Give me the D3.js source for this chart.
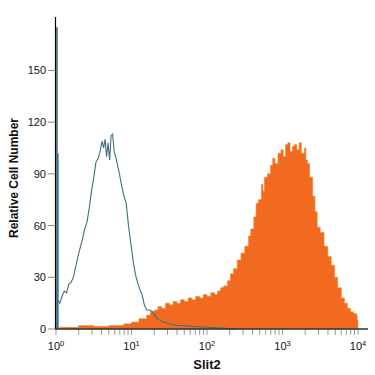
<!DOCTYPE html>
<html>
<head>
<meta charset="utf-8">
<script src="https://cdn.jsdelivr.net/npm/d3@7"></script>
<style>
  body { margin: 0; background: #fff; }
  svg { display: block; }
</style>
</head>
<body>
<div id="chart"></div>
<script>
// isotype control histogram: [log10 intensity, count]
var isotypeLog = [0.02,0.05,0.08,0.11,0.14,0.17,0.2,0.23,0.26,0.29,0.32,0.35,0.38,0.41,0.44,0.47,0.5,0.53,0.56,0.59,0.61,0.63,0.65,0.67,0.69,0.71,0.73,0.75,0.77,0.79,0.81,0.84,0.87,0.9,0.93,0.96,0.99,1.02,1.05,1.08,1.11,1.14,1.17,1.2,1.24,1.28,1.31,1.34,1.38,1.42,1.5,1.6,1.7,1.8,2.0,2.2,2.4];
var isotypeCount = [17,15,19,22,21,26,27,30,36,42,47,52,58,62,70,80,88,97,99,104,109,105,110,100,108,98,112,113,103,100,96,90,83,77,73,60,50,40,32,27,23,20,14,11,11,10,8,6,5,4,3,2,2,1.5,1,0.5,0];
// first channel pile-up
var spikeCounts = [175, 102];

// Slit2 stained histogram
var slitLog = [0,0.05,0.2,0.3,0.5,0.7,0.9,1.0,1.1,1.2,1.25,1.3,1.35,1.4,1.45,1.5,1.55,1.6,1.65,1.7,1.75,1.8,1.85,1.9,1.95,2.0,2.05,2.1,2.14,2.18,2.22,2.27,2.31,2.35,2.4,2.45,2.5,2.55,2.58,2.62,2.65,2.68,2.72,2.74,2.76,2.8,2.84,2.87,2.9,2.94,2.98,3.01,3.04,3.07,3.1,3.13,3.16,3.19,3.22,3.25,3.29,3.31,3.33,3.36,3.4,3.43,3.46,3.5,3.55,3.6,3.645,3.69,3.73,3.78,3.82,3.86,3.9,3.94,3.98,3.99,4.0];
var slitCount = [0.5,1,1,2,1.5,2,3,4,6,8,10,11,13,12,15,14,16,15,17,16,18,17,19,18,20,19,21,20,22,24,25,28,32,35,40,44,48,54,58,65,73,75,84,80,88,90,95,99,96,102,104,100,107,108,103,106,107,104,108,102,105,98,96,88,77,68,59,56,48,42,37,30,24,18,15,12,10,9,8,5,0];

var yTicks = [0, 30, 60, 90, 120, 150];
var xDecades = [0, 1, 2, 3, 4];

var W = 375, H = 375;
var svg = d3.select("#chart").append("svg")
  .attr("width", W).attr("height", H);

var x = d3.scaleLog().domain([1, 1e4]).range([56, 358]);
var y = d3.scaleLinear().domain([0, 181]).range([329, 17]);

var slit = slitLog.map(function(l, i) { return [Math.pow(10, l), slitCount[i]]; });
var iso = isotypeLog.map(function(l, i) { return [Math.pow(10, l), isotypeCount[i]]; });

// stained sample, filled
svg.append("path")
  .datum(slit)
  .attr("fill", "#f26a1f")
  .attr("stroke", "#e98b2e")
  .attr("stroke-width", 0.6)
  .attr("d", d3.area()
    .x(function(d) { return x(d[0]); })
    .y0(y(0))
    .y1(function(d) { return y(d[1]); })
    .curve(d3.curveStepAfter));

// pile-up spike in the first channel
svg.append("line")
  .attr("x1", x(1.03)).attr("x2", x(1.03))
  .attr("y1", y(0)).attr("y2", y(spikeCounts[0]))
  .attr("stroke", "#4f6a6a").attr("stroke-width", 1.6);
svg.append("line")
  .attr("x1", x(1.06)).attr("x2", x(1.06))
  .attr("y1", y(0)).attr("y2", y(spikeCounts[1]))
  .attr("stroke", "#1f6f99").attr("stroke-width", 1.4);

// isotype control outline
svg.append("path")
  .datum(iso)
  .attr("fill", "none")
  .attr("stroke", "#40707f")
  .attr("stroke-width", 1.1)
  .attr("d", d3.line()
    .x(function(d) { return x(d[0]); })
    .y(function(d) { return y(d[1]); }));

// axes
var font = "'Liberation Sans', Arial, sans-serif";

var yAxis = svg.append("g");
yAxis.append("line")
  .attr("x1", 55.5).attr("x2", 55.5)
  .attr("y1", y.range()[1]).attr("y2", y(0))
  .attr("stroke", "#000").attr("stroke-width", 1.2);
yAxis.selectAll(".yt").data(yTicks).enter().append("line")
  .attr("x1", 48).attr("x2", 55)
  .attr("y1", function(d) { return y(d); })
  .attr("y2", function(d) { return y(d); })
  .attr("stroke", "#888").attr("stroke-width", 1);
yAxis.selectAll(".yl").data(yTicks).enter().append("text")
  .attr("x", 46)
  .attr("y", function(d) { return y(d) + 4; })
  .attr("text-anchor", "end")
  .attr("font-family", font)
  .attr("font-size", 11)
  .attr("fill", "#111")
  .text(function(d) { return d; });

var xAxis = svg.append("g");
var minor = [];
xDecades.slice(0, -1).forEach(function(e) {
  for (var k = 2; k <= 9; k++) minor.push(k * Math.pow(10, e));
});
xAxis.selectAll(".xm").data(minor.concat(xDecades.map(function(e) { return Math.pow(10, e); })))
  .enter().append("line")
  .attr("x1", function(d) { return x(d); })
  .attr("x2", function(d) { return x(d); })
  .attr("y1", y(0)).attr("y2", y(0) + 6)
  .attr("stroke", "#999").attr("stroke-width", 1);
xAxis.append("line")
  .attr("x1", 55).attr("x2", x.range()[1] + 10)
  .attr("y1", y(0)).attr("y2", y(0))
  .attr("stroke", "#333").attr("stroke-width", 1.5);

var xl = xAxis.selectAll(".xl").data(xDecades).enter().append("text")
  .attr("x", function(d) { return x(Math.pow(10, d)); })
  .attr("y", 350)
  .attr("text-anchor", "middle")
  .attr("font-family", font)
  .attr("font-size", 11)
  .attr("fill", "#111");
xl.append("tspan").text("10");
xl.append("tspan")
  .attr("font-size", 7.5)
  .attr("dy", -4.5)
  .text(function(d) { return d; });

// titles
svg.append("text")
  .attr("x", 207).attr("y", 369)
  .attr("text-anchor", "middle")
  .attr("font-family", font)
  .attr("font-weight", "bold")
  .attr("font-size", 13)
  .attr("fill", "#111")
  .text("Slit2");

svg.append("text")
  .attr("transform", "translate(18,178) rotate(-90)")
  .attr("text-anchor", "middle")
  .attr("font-family", "'Liberation Sans Narrow', 'Liberation Sans', Arial, sans-serif")
  .attr("font-weight", "bold")
  .attr("font-size", 12)
  .attr("fill", "#111")
  .text("Relative Cell Number");
</script>
</body>
</html>
